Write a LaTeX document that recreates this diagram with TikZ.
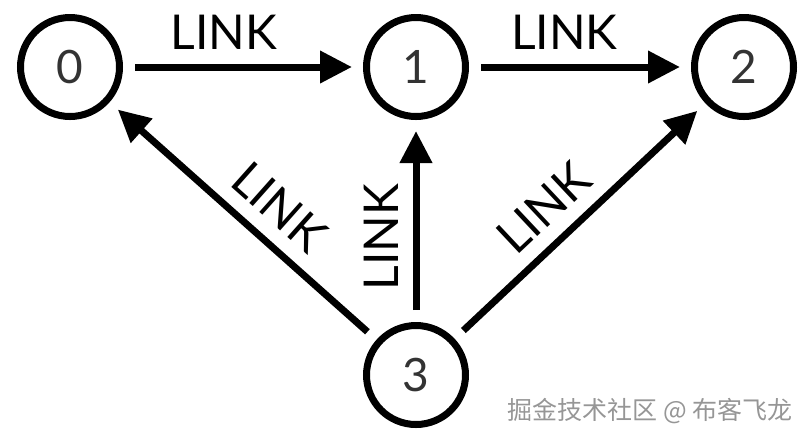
\documentclass[tikz,border=0pt]{standalone}
\usepackage{fontspec}
\setmainfont{Lato}
\newfontfamily\cjkfont{Noto Sans CJK SC}
\usepackage{xcolor}
\usetikzlibrary{arrows.meta,positioning}
\definecolor{digitgray}{RGB}{51,51,51}
\definecolor{markgray}{RGB}{150,150,150}

\begin{document}
\begin{tikzpicture}[x=0.5pt,y=-0.5pt,>={Triangle[length=16pt,width=15.5pt]},
  peer/.style={draw,circle,line width=3.5pt,minimum size=49.5pt,inner sep=0pt,
    text=digitgray,font=\fontsize{23}{23}\selectfont},
  link/.style={->,line width=3.5pt,shorten <=6pt,shorten >=5.5pt},
  tag/.style={font=\fontsize{24}{24}\selectfont,inner sep=7pt}]
  \useasboundingbox (0,0) rectangle (809,441);
  \foreach \i/\x/\y in {0/70/67,1/416/67,2/744/67,3/416/375}
    \node[peer] (n\i) at (\x,\y) {\i};
  \draw[link] (n0) -- node[tag,above,pos=0.42] {LINK} (n1);
  \draw[link] (n1) -- node[tag,above,pos=0.43] {LINK} (n2);
  \draw[link] (n3) -- node[tag,above,sloped,pos=0.45] {LINK} (n0);
  \draw[link] (n3) -- node[tag,above,sloped,pos=0.42] {LINK} (n1);
  \draw[link] (n3) -- node[tag,above,sloped,pos=0.45] {LINK} (n2);
  \node[font=\cjkfont\fontsize{12.5}{12.5}\selectfont,text=markgray] (mark) at (650,411)
    {掘金技术社区 @ 布客飞龙};
\end{tikzpicture}
\end{document}
